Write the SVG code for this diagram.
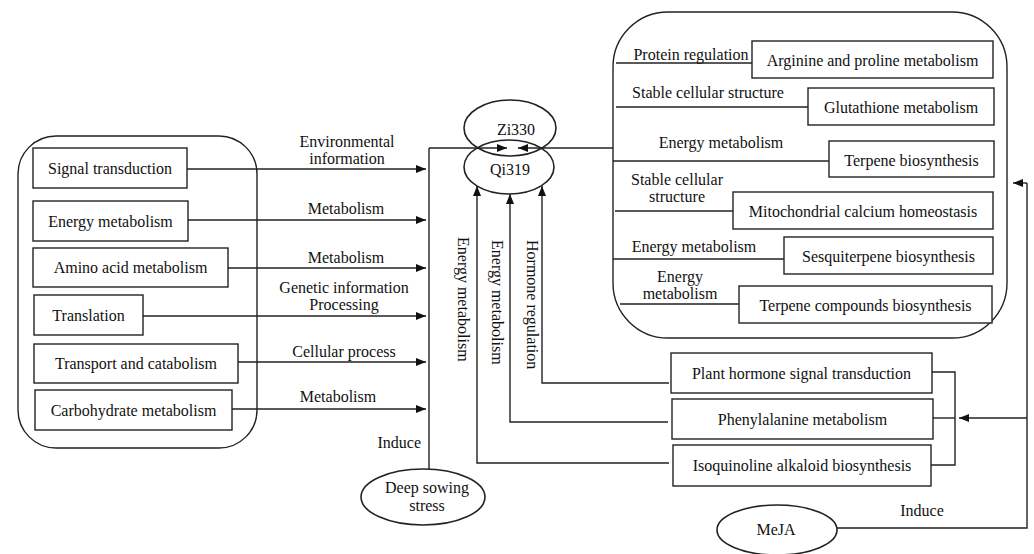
<svg xmlns="http://www.w3.org/2000/svg" width="1034" height="554" viewBox="0 0 1034 554" font-family="'Liberation Serif', 'Times New Roman', serif">
<style>
text{font-family:'Liberation Serif','Times New Roman',serif;font-size:16px;fill:#111;}
.m{text-anchor:middle;}
.box{fill:#fff;stroke:#222;stroke-width:1.4;}
.grp{fill:none;stroke:#222;stroke-width:1.4;}
.ln{fill:none;stroke:#222;stroke-width:1.4;}
.ar{fill:none;stroke:#222;stroke-width:1.4;marker-end:url(#arr);}
.el{fill:none;stroke:#222;stroke-width:1.6;}
</style>
<defs>
<marker id="arr" viewBox="0 0 10 8" refX="10" refY="4" markerWidth="10" markerHeight="8" markerUnits="userSpaceOnUse" orient="auto">
<path d="M0,0 L10,4 L0,8 Z" fill="#111"/>
</marker>
</defs>
<rect width="1034" height="554" fill="#fff"/>

<g id="left-group">
<rect class="grp" x="18" y="136" width="239" height="312" rx="38"/>
</g>
<g id="right-group">
<rect class="grp" x="613" y="12" width="394" height="326" rx="55"/>
</g>

<g id="connectors">
<path class="ar" d="M187 169 H426"/>
<path class="ar" d="M188 220 H426"/>
<path class="ar" d="M228 268 H426"/>
<path class="ar" d="M143 316 H426"/>
<path class="ar" d="M238 362 H426"/>
<path class="ar" d="M232 409 H426"/>
<path class="ln" d="M429 469 V148"/>
<path class="ar" d="M429 148 H507"/>
<path class="ar" d="M613 148 H518"/>
<path class="ar" d="M669 383 H542 V186"/>
<path class="ar" d="M668 422 H510 V194"/>
<path class="ar" d="M669 463 H477 V186"/>
<path class="ln" d="M932 372 H955 V465 H931"/>
<path class="ln" d="M933 418 H955"/>
<path class="ar" d="M1027 418 H959"/>
<path class="ln" d="M837 528 H1027 V183"/>
<path class="ar" d="M1027 183 H1013"/>
<path class="ln" d="M616 63 H752"/>
<path class="ln" d="M616 107 H808"/>
<path class="ln" d="M613 161 H829"/>
<path class="ln" d="M615 211 H733"/>
<path class="ln" d="M613 259 H784"/>
<path class="ln" d="M620 304 H739"/>
</g>

<g id="connector-labels">
<text class="m" x="347" y="147">Environmental</text>
<text class="m" x="347" y="164">information</text>
<text class="m" x="346" y="214">Metabolism</text>
<text class="m" x="346" y="263">Metabolism</text>
<text class="m" x="344" y="293">Genetic information</text>
<text class="m" x="344" y="310">Processing</text>
<text class="m" x="344" y="357">Cellular process</text>
<text class="m" x="338" y="402">Metabolism</text>
<text x="421" y="448" text-anchor="end">Induce</text>
<text class="m" x="922" y="516">Induce</text>
<text transform="translate(458,237) rotate(90)">Energy metabolism</text>
<text transform="translate(492,240) rotate(90)">Energy metabolism</text>
<text transform="translate(527,240) rotate(90)">Hormone regulation</text>
<text class="m" x="691" y="60">Protein regulation</text>
<text class="m" x="708" y="98">Stable cellular structure</text>
<text class="m" x="721" y="148">Energy metabolism</text>
<text class="m" x="677" y="185">Stable cellular</text>
<text class="m" x="677" y="202">structure</text>
<text class="m" x="694" y="252">Energy metabolism</text>
<text class="m" x="680" y="282">Energy</text>
<text class="m" x="680" y="299">metabolism</text>
</g>

<g id="n-signal"><rect class="box" x="33" y="148" width="154" height="40"/><text class="m" x="110" y="174">Signal transduction</text></g>
<g id="n-energy"><rect class="box" x="33" y="201" width="155" height="40"/><text class="m" x="110.5" y="227">Energy metabolism</text></g>
<g id="n-amino"><rect class="box" x="33" y="248" width="195" height="39"/><text class="m" x="130.5" y="273">Amino acid metabolism</text></g>
<g id="n-translation"><rect class="box" x="34" y="295" width="109" height="40"/><text class="m" x="88.5" y="321">Translation</text></g>
<g id="n-transport"><rect class="box" x="34" y="344" width="204" height="39"/><text class="m" x="136" y="369">Transport and catabolism</text></g>
<g id="n-carbo"><rect class="box" x="35" y="390" width="197" height="40"/><text class="m" x="133.5" y="416">Carbohydrate metabolism</text></g>

<g id="n-zi330"><ellipse class="el" cx="510" cy="128" rx="46" ry="28"/><text class="m" x="516" y="135">Zi330</text></g>
<g id="n-qi319"><ellipse class="el" cx="509" cy="167" rx="45" ry="27"/><text class="m" x="510" y="175">Qi319</text></g>

<g id="n-arginine"><rect class="box" x="752" y="41" width="241" height="37"/><text class="m" x="872.5" y="66">Arginine and proline metabolism</text></g>
<g id="n-glutathione"><rect class="box" x="808" y="88" width="186" height="37"/><text class="m" x="901" y="113">Glutathione metabolism</text></g>
<g id="n-terpene"><rect class="box" x="829" y="141" width="165" height="36"/><text class="m" x="911.5" y="166">Terpene biosynthesis</text></g>
<g id="n-mito"><rect class="box" x="733" y="192" width="260" height="37"/><text class="m" x="863" y="217">Mitochondrial calcium homeostasis</text></g>
<g id="n-sesqui"><rect class="box" x="784" y="237" width="209" height="37"/><text class="m" x="888.5" y="262">Sesquiterpene biosynthesis</text></g>
<g id="n-terpcomp"><rect class="box" x="739" y="286" width="253" height="37"/><text class="m" x="865.5" y="311">Terpene compounds biosynthesis</text></g>

<g id="n-plant"><rect class="box" x="671" y="353" width="261" height="40"/><text class="m" x="801.5" y="379">Plant hormone signal transduction</text></g>
<g id="n-phenyl"><rect class="box" x="672" y="399" width="261" height="40"/><text class="m" x="802.5" y="425">Phenylalanine metabolism</text></g>
<g id="n-isoq"><rect class="box" x="673" y="445" width="258" height="41"/><text class="m" x="802" y="471">Isoquinoline alkaloid biosynthesis</text></g>

<g id="n-deep"><ellipse class="el" cx="423" cy="497" rx="62" ry="28"/><text class="m" x="427" y="493">Deep sowing</text><text class="m" x="427" y="511">stress</text></g>
<g id="n-meja"><ellipse class="el" cx="777" cy="530" rx="60" ry="25"/><text class="m" x="776" y="535">MeJA</text></g>
</svg>
